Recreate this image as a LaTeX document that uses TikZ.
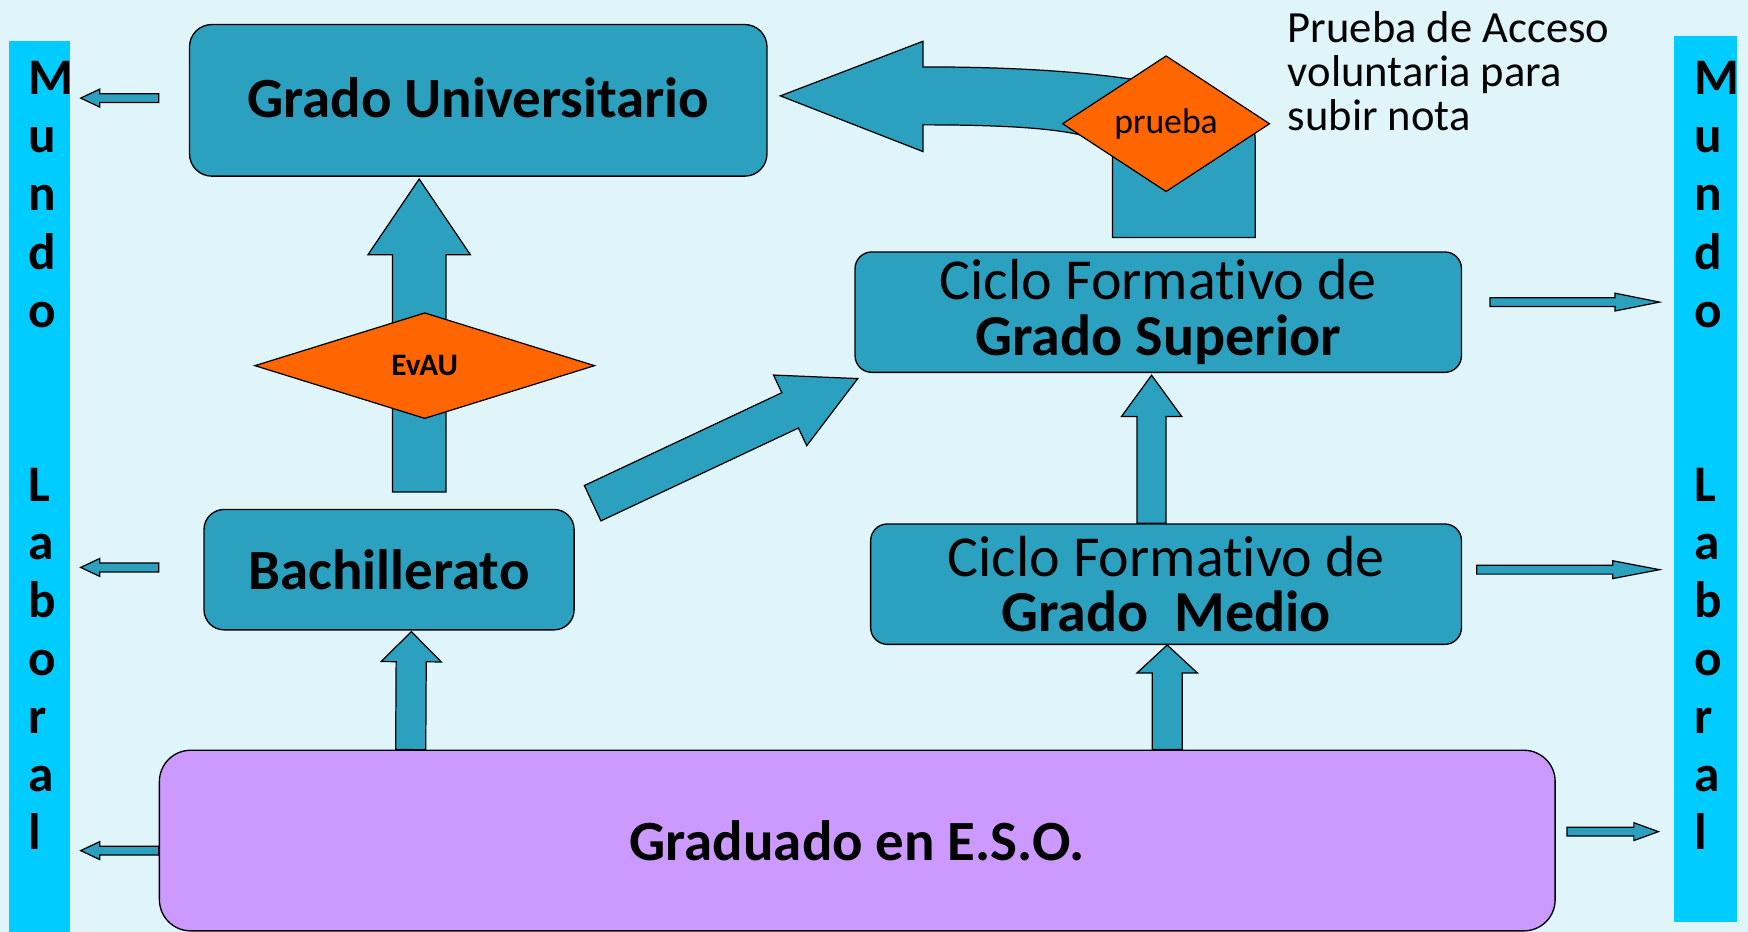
\documentclass[tikz,border=0pt]{standalone}
\usepackage{fontspec}
\setmainfont{Carlito}[Ligatures=NoCommon]
\usetikzlibrary{calc,shapes.geometric}
\definecolor{bgc}{RGB}{223,245,250}
\definecolor{barc}{RGB}{0,204,255}
\definecolor{boxc}{RGB}{44,161,191}
\definecolor{lavc}{RGB}{204,153,255}
\definecolor{orc}{RGB}{255,102,0}
\pgfdeclarelayer{back}
\pgfdeclarelayer{arrows}
\pgfsetlayers{back,arrows,main}
\newcommand{\blockarrow}[5]{%
  \coordinate (ba-a) at #1;
  \coordinate (ba-b) at #2;
  \coordinate (ba-h) at ($(ba-b)!#5!(ba-a)$);
  \draw[blockarr] ($(ba-a)!#3!90:(ba-b)$) -- ($(ba-h)!#3!-90:(ba-a)$) -- ($(ba-h)!#4!-90:(ba-a)$) -- (ba-b) -- ($(ba-h)!#4!90:(ba-a)$) -- ($(ba-h)!#3!90:(ba-a)$) -- ($(ba-a)!#3!-90:(ba-b)$) -- cycle;}
\begin{document}
\begin{tikzpicture}[x=1pt,y=-1pt,
  box/.style={draw=black, line width=1.2pt, fill=boxc, rounded corners=18pt, inner sep=0pt, align=center},
  blockarr/.style={draw=black, line width=1.1pt, fill=boxc, line join=miter},
  dia/.style={diamond, draw=black, line width=1.1pt, fill=orc, inner sep=0pt},
  bigb/.style={font=\fontsize{51}{50}\selectfont\bfseries},
  cyc/.style={font=\fontsize{52}{50}\selectfont},
  letter/.style={anchor=base west, inner sep=0pt, font=\fontsize{46}{46}\selectfont\bfseries}]
\begin{pgfonlayer}{back}
\fill[bgc] (0,0) rectangle (1568,836);
\fill[barc] (8,37) rectangle (63,836);
\fill[barc] (1502,32) rectangle (1558,827);
\end{pgfonlayer}
\useasboundingbox (0,0) rectangle (1568,836);

% boxes
\node[box, minimum width=518pt, minimum height=136pt, rounded corners=20pt] (gu) at (429,90) {};
\node[bigb, inner sep=0pt] (gutext) at (429,88) {Grado Universitario};
\node[box, bigb, minimum width=332pt, minimum height=108pt] (bach) at (349,511) {Bachillerato};
\node[box, cyc, minimum width=544pt, minimum height=108pt, rounded corners=15pt] (cfgs) at (1039,280) {Ciclo Formativo de\\\bfseries Grado Superior};
\node[box, cyc, minimum width=530pt, minimum height=108pt, rounded corners=15pt] (cfgm) at (1046,524) {Ciclo Formativo de\\\bfseries Grado~ Medio};
\node[box, bigb, fill=lavc, minimum width=1252pt, minimum height=162pt, rounded corners=28pt] (eso) at (769,754) {Graduado en E.S.O.};

% diamonds
\node[dia, minimum width=305pt, minimum height=95pt, font=\fontsize{28}{28}\selectfont\bfseries] (evau) at (381,328) {EvAU};
\node[dia, minimum width=186pt, minimum height=122pt, font=\fontsize{32}{32}\selectfont] (prueba) at (1046,111) {prueba};

% note
\node[anchor=north west, inner sep=0pt, align=left, font=\fontsize{40}{39.5}\selectfont] (note) at (1155,10) {Prueba de Acceso\\voluntaria para\\subir nota};

% Mundo Laboral
\foreach \ch/\k in {M/0,u/1,n/2,d/3,o/4,L/7,a/8,b/9,o/10,r/11,a/12,l/13} {
  \node[letter] (lm\k) at (25,{85+52.1*\k}) {\ch};
  \node[letter] (rm\k) at (1520,{85+52.1*\k}) {\ch};
}

\begin{pgfonlayer}{arrows}
% left arrows
\blockarrow{($(gu.west)+(-27,-2)$)}{($(gu.west)+(-97,-2)$)}{4pt}{8pt}{17pt}
\blockarrow{($(bach.west)+(-40,-2)$)}{($(bach.west)+(-110,-2)$)}{4pt}{8pt}{17pt}
\blockarrow{($(eso.west)+(0,9)$)}{($(eso.west)+(-70,9)$)}{4pt}{8pt}{17pt}
% right arrows
\blockarrow{($(cfgs.east)+(25,-9)$)}{($(cfgs.east)+(177,-9)$)}{4pt}{8pt}{40pt}
\blockarrow{($(cfgm.east)+(13,-13)$)}{($(cfgm.east)+(177,-13)$)}{4pt}{8pt}{42pt}
\blockarrow{($(eso.east)+(10,-8)$)}{($(eso.east)+(92,-8)$)}{4pt}{8pt}{22pt}
% upward arrows
\blockarrow{($(bach.north)+(27,-15)$)}{($(gu.south)+(-53,2)$)}{24pt}{46pt}{68pt}
\blockarrow{($(eso.north west)+(226,0)$)}{($(bach.south)+(20,1)$)}{13.5pt}{27pt}{27pt}
\blockarrow{($(cfgm.north)+(-13,0)$)}{($(cfgs.south)+(-6,2)$)}{13pt}{27pt}{37pt}
\blockarrow{($(eso.north)+(278,0)$)}{($(cfgm.south)+(1,0)$)}{13.5pt}{27pt}{25pt}
% diagonal
\blockarrow{($(bach.north east)+(16,-5)$)}{($(cfgs.south west)+(3,5)$)}{17.5pt}{35pt}{67pt}
% curved arrow from CFGS to Grado Universitario
\draw[blockarr] (998,213) -- (998,140) .. controls (998,118) and (930,112) .. (828,112)
  -- (828,136) -- (700,86) -- (828,37) -- (828,60)
  .. controls (1000,60) and (1126,80) .. (1126,125) -- (1126,213) -- cycle;
\end{pgfonlayer}
\end{tikzpicture}
\end{document}
